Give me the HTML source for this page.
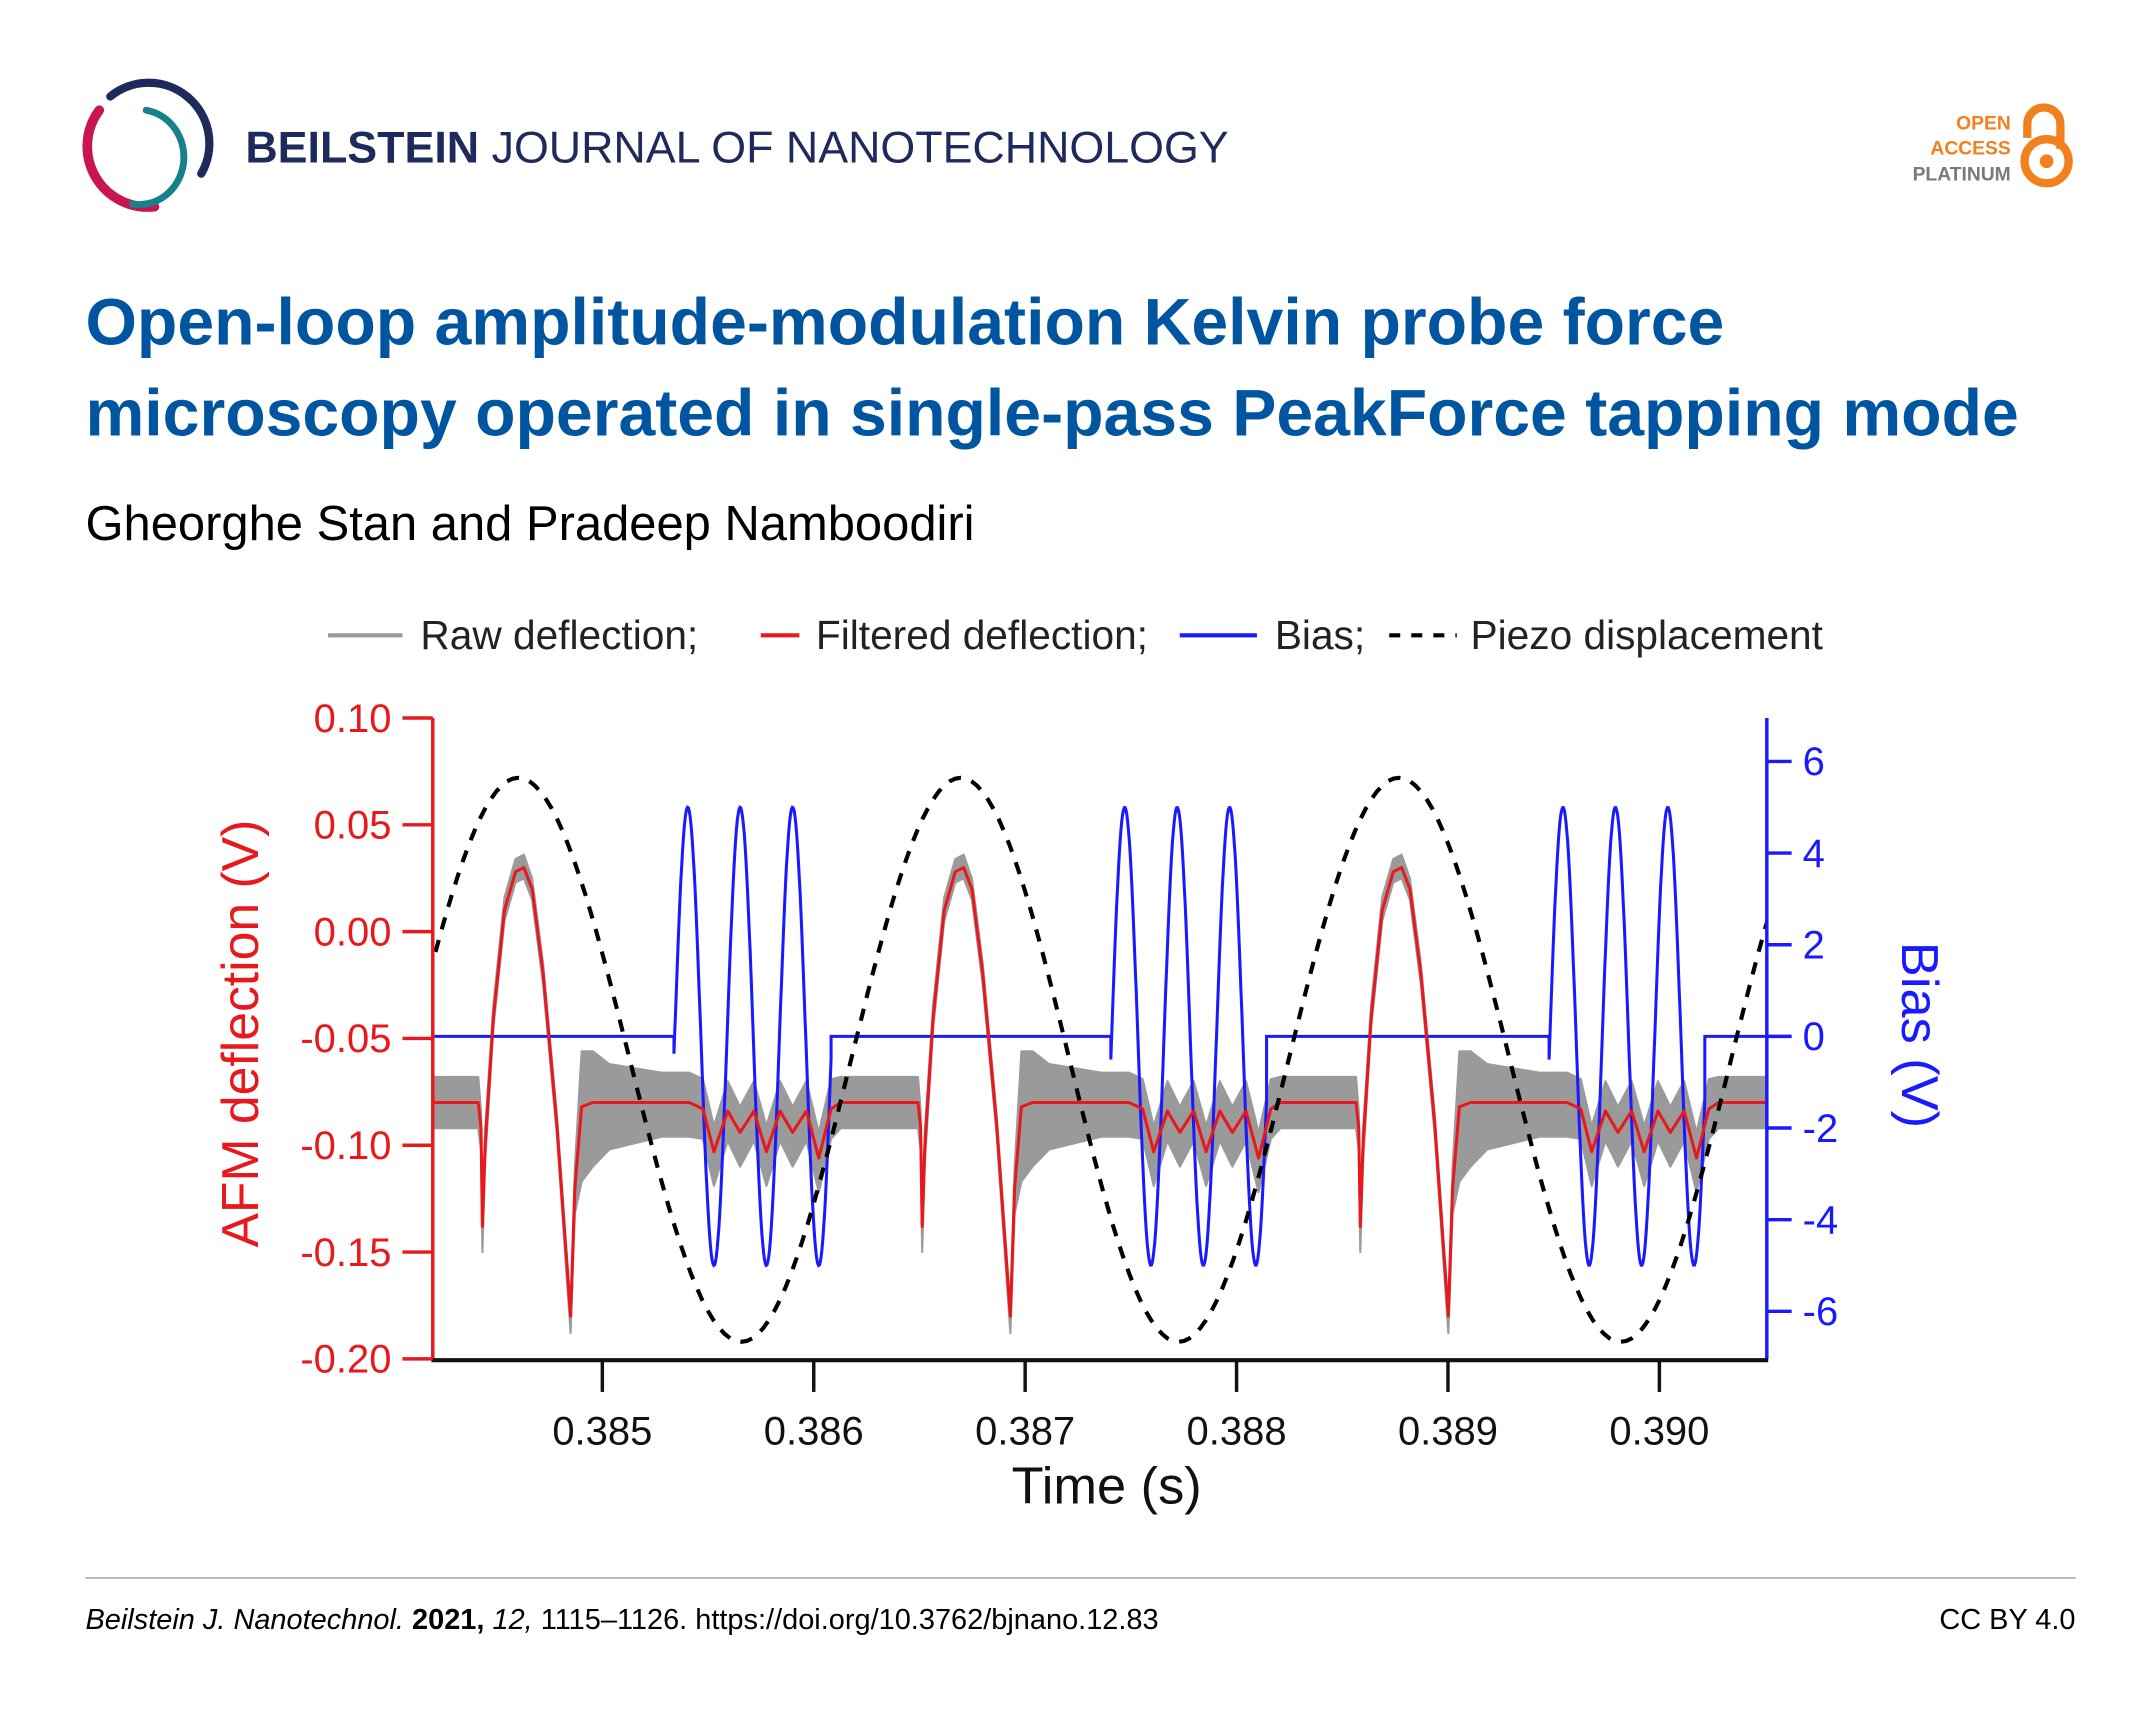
<!DOCTYPE html>
<html><head><meta charset="utf-8"><style>
html,body{margin:0;padding:0;background:#fff;}
svg{display:block;}
text{font-family:"Liberation Sans",Arial,sans-serif;}
</style></head><body>
<svg id="fig" width="2150" height="1722" viewBox="0 0 1560 1249.5" xmlns="http://www.w3.org/2000/svg">
<defs><clipPath id="plotclip"><rect x="314" y="521" width="968" height="465"/></clipPath></defs>
<g fill="none" stroke-linecap="round">
  <path d="M 80 70 A 44 44 0 0 1 146 126" stroke="#1f2a5c" stroke-width="6"/>
  <path d="M 72 80 A 44 44 0 0 0 112 150" stroke="#c8174f" stroke-width="7"/>
  <path d="M 106 80 A 32 34 0 0 1 96 148" stroke="#17808a" stroke-width="5"/>
</g>
<text x="178" y="118" font-size="32.5" fill="#1f2a5c"><tspan font-weight="bold">BEILSTEIN</tspan> JOURNAL OF NANOTECHNOLOGY</text>
<g>
  <text x="1459" y="94" font-size="14" font-weight="bold" fill="#f0811e" text-anchor="end">OPEN</text>
  <text x="1459" y="112" font-size="14" font-weight="bold" fill="#f0811e" text-anchor="end">ACCESS</text>
  <text x="1459" y="131" font-size="14" font-weight="bold" fill="#7a7a7a" text-anchor="end">PLATINUM</text>
  <path d="M 1471 100 L 1471 90 A 12 12 0 0 1 1495 90 L 1495 108" fill="none" stroke="#f0811e" stroke-width="6"/>
  <circle cx="1485" cy="117" r="16" fill="none" stroke="#f0811e" stroke-width="6"/>
  <circle cx="1485" cy="117" r="5" fill="#f0811e"/>
</g>
<text x="62" y="250" font-size="48" font-weight="bold" fill="#0055a0">Open-loop amplitude-modulation Kelvin probe force</text>
<text x="62" y="316" font-size="48" font-weight="bold" fill="#0055a0">microscopy operated in single-pass PeakForce tapping mode</text>
<text x="62" y="392" font-size="35.5" fill="#000">Gheorghe Stan and Pradeep Namboodiri</text>

<g font-size="29.5" fill="#222">
  <line x1="238" y1="461" x2="292" y2="461" stroke="#999" stroke-width="3"/>
  <text x="305" y="471">Raw deflection;</text>
  <line x1="552" y1="461" x2="580" y2="461" stroke="#e8191c" stroke-width="3"/>
  <text x="592" y="471">Filtered deflection;</text>
  <line x1="856" y1="461" x2="912" y2="461" stroke="#1a1aff" stroke-width="3"/>
  <text x="925" y="471">Bias;</text>
  <line x1="1008" y1="461" x2="1057" y2="461" stroke="#000" stroke-width="3" stroke-dasharray="8 8"/>
  <text x="1067" y="471">Piezo displacement</text>
</g>

<g id="plot" clip-path="url(#plotclip)"></g>
<g id="axes"></g>

<text x="803" y="1091" font-size="38" text-anchor="middle" fill="#111">Time (s)</text>
<text transform="translate(187,750) rotate(-90)" font-size="37.5" text-anchor="middle" fill="#e8191c">AFM deflection (V)</text>
<text transform="translate(1380,751) rotate(90)" font-size="38" text-anchor="middle" fill="#1a1aff">Bias (V)</text>

<line x1="62" y1="1145" x2="1506" y2="1145" stroke="#bbb" stroke-width="1.5"/>
<text x="62" y="1182" font-size="21" fill="#000"><tspan font-style="italic">Beilstein J. Nanotechnol.</tspan> <tspan font-weight="bold">2021,</tspan> <tspan font-style="italic">12,</tspan> 1115–1126. https://doi.org/10.3762/bjnano.12.83</text>
<text x="1506" y="1182" font-size="21" fill="#000" text-anchor="end">CC BY 4.0</text>
</svg>
<script>
// ---- data ----
const xTicks = [0.385, 0.386, 0.387, 0.388, 0.389, 0.390];
const xTickLabels = ["0.385", "0.386", "0.387", "0.388", "0.389", "0.390"];
const yLeftTicks = [0.10, 0.05, 0.00, -0.05, -0.10, -0.15, -0.20];
const yLeftLabels = ["0.10", "0.05", "0.00", "-0.05", "-0.10", "-0.15", "-0.20"];
const yRightTicks = [6, 4, 2, 0, -2, -4, -6];
const yRightLabels = ["6", "4", "2", "0", "-2", "-4", "-6"];
// piezo displacement extrema (time, value on deflection axis)
const piezoTimes = [0.383559, 0.384602, 0.385658, 0.386695, 0.387725, 0.388768, 0.389817, 0.390861];
const piezoValues = [-0.192, 0.072, -0.192, 0.072, -0.192, 0.072, -0.192, 0.072];
// bias bursts
const burstStart = [0.385339, 0.387405, 0.389478];
const burstEnd = [0.386082, 0.388142, 0.390215];
const burstPeak = [0.385404, 0.387471, 0.389544];
const burstAmp = [5, 5, 5];
const burstPeriod = [0.000248, 0.000248, 0.000248];
// filtered deflection: cycle dip times and shape (offset µs, value)
const cycleDips = [0.384433, 0.386513, 0.388585];
const shapeOffsetsUs = [-261, -20, -7, 0, 13, 52, 104, 156, 196, 235, 287, 352, 417, 437, 469, 522, 600, 848, 978, 1043, 1095, 1160, 1219, 1284, 1343, 1408, 1467, 1532, 1591, 1649, 1695, 1825];
const shapeValues = [-0.080, -0.080, -0.092, -0.138, -0.100, -0.040, 0.010, 0.028, 0.030, 0.020, -0.020, -0.090, -0.180, -0.120, -0.082, -0.080, -0.080, -0.080, -0.080, -0.083, -0.103, -0.084, -0.094, -0.084, -0.103, -0.084, -0.094, -0.084, -0.106, -0.083, -0.080, -0.080];
const rawEnvUp = [0.012, 0.012, 0.008, 0.006, 0.008, 0.006, 0.006, 0.006, 0.006, 0.005, 0.005, 0.005, 0.004, 0.010, 0.026, 0.024, 0.018, 0.014, 0.014, 0.014, 0.012, 0.014, 0.012, 0.014, 0.012, 0.014, 0.012, 0.014, 0.012, 0.014, 0.012, 0.012];
const rawEnvDown = [0.012, 0.012, 0.010, 0.012, 0.008, 0.005, 0.005, 0.005, 0.005, 0.005, 0.005, 0.005, 0.008, 0.012, 0.035, 0.030, 0.022, 0.016, 0.016, 0.014, 0.016, 0.014, 0.016, 0.014, 0.016, 0.014, 0.016, 0.014, 0.016, 0.014, 0.012, 0.012];
const endTime = 0.390508;

// ---- scales ----
const NS = "http://www.w3.org/2000/svg";
const T0 = 0.384198;
function xS(t){ return 314 + (t - T0) / 0.001 * 153.4; }
function yL(v){ return 521 + (0.10 - v) * 1550; }
function yR(b){ return 752 - b * 33.25; }
const plot = document.getElementById('plot');
const axes = document.getElementById('axes');
function mk(tag, attrs, parent){
  const e = document.createElementNS(NS, tag);
  for (const k in attrs) e.setAttribute(k, attrs[k]);
  parent.appendChild(e); return e;
}
function pts(a){ return a.map(p => p[0].toFixed(1) + ',' + p[1].toFixed(1)).join(' '); }

const redPts = [], upPts = [], dnPts = [];
cycleDips.forEach(function(d){
  shapeOffsetsUs.forEach(function(o, i){
    const t = d + o * 1e-6;
    redPts.push([xS(t), yL(shapeValues[i])]);
    upPts.push([xS(t), yL(shapeValues[i] + rawEnvUp[i])]);
    dnPts.push([xS(t), yL(shapeValues[i] - rawEnvDown[i])]);
  });
});
redPts.push([xS(endTime), yL(-0.080)]);
upPts.push([xS(endTime), yL(-0.068)]);
dnPts.push([xS(endTime), yL(-0.092)]);

const raw = mk('polygon', {points: pts(upPts.concat(dnPts.slice().reverse())), fill: '#9a9a9a', stroke: '#9a9a9a', 'stroke-width': 1.5, 'stroke-linejoin': 'round'}, plot);



const biasPts = [[xS(T0), yR(0)]];
burstStart.forEach(function(s, i){
  biasPts.push([xS(s), yR(0)]);
  for (let t = s; t <= burstEnd[i]; t += 0.000004){
    biasPts.push([xS(t), yR(burstAmp[i] * Math.cos(2 * Math.PI * (t - burstPeak[i]) / burstPeriod[i]))]);
  }
  const te = burstEnd[i];
  biasPts.push([xS(te), yR(burstAmp[i] * Math.cos(2 * Math.PI * (te - burstPeak[i]) / burstPeriod[i]))]);
  biasPts.push([xS(te), yR(0)]);
});
biasPts.push([xS(endTime), yR(0)]);
const bias = mk('polyline', {points: pts(biasPts), fill: 'none', stroke: '#1a1aff', 'stroke-width': 2.2}, plot);



const red = mk('polyline', {points: pts(redPts), fill: 'none', stroke: '#e8191c', 'stroke-width': 2.2, 'stroke-linejoin': 'round'}, plot);



const pz = [];
for (let i = 0; i < piezoTimes.length - 1; i++){
  const t1 = piezoTimes[i], t2 = piezoTimes[i+1], v1 = piezoValues[i], v2 = piezoValues[i+1];
  for (let k = 0; k <= 40; k++){
    const f = k / 40, t = t1 + (t2 - t1) * f;
    const v = v1 + (v2 - v1) * (1 - Math.cos(Math.PI * f)) / 2;
    pz.push([xS(t), yL(v)]);
  }
}
const piezo = mk('polyline', {points: pts(pz), fill: 'none', stroke: '#000', 'stroke-width': 3, 'stroke-dasharray': '9 8'}, plot);



const la = mk('line', {x1: 314, y1: 521, x2: 314, y2: 986, stroke: '#e8191c', 'stroke-width': 2.5}, axes);


const ra = mk('line', {x1: 1282, y1: 521, x2: 1282, y2: 986, stroke: '#1a1aff', 'stroke-width': 2.5}, axes);


const xa = mk('line', {x1: 313, y1: 987, x2: 1283, y2: 987, stroke: '#111', 'stroke-width': 3}, axes);



yLeftTicks.forEach(function(v, i){
  const y = yL(v);
  const tk = mk('line', {x1: 292, y1: y, x2: 314, y2: y, stroke: '#e8191c', 'stroke-width': 2.5}, axes);
  
  
  const lb = mk('text', {x: 284, y: y + 10, 'font-size': 29, fill: '#e8191c', 'text-anchor': 'end'}, axes);
  lb.textContent = yLeftLabels[i];
  
  
});
yRightTicks.forEach(function(v, i){
  const y = yR(v);
  const tk = mk('line', {x1: 1282, y1: y, x2: 1300, y2: y, stroke: '#1a1aff', 'stroke-width': 2.5}, axes);
  
  
  const lb = mk('text', {x: 1308, y: y + 10, 'font-size': 29, fill: '#1a1aff'}, axes);
  lb.textContent = yRightLabels[i];
  
  
});
xTicks.forEach(function(t, i){
  const x = xS(t);
  const tk = mk('line', {x1: x, y1: 987, x2: x, y2: 1010, stroke: '#111', 'stroke-width': 2.5}, axes);
  
  
  const lb = mk('text', {x: x, y: 1048, 'font-size': 29, fill: '#111', 'text-anchor': 'middle'}, axes);
  lb.textContent = xTickLabels[i];
  
  
});
</script>
</body></html>
